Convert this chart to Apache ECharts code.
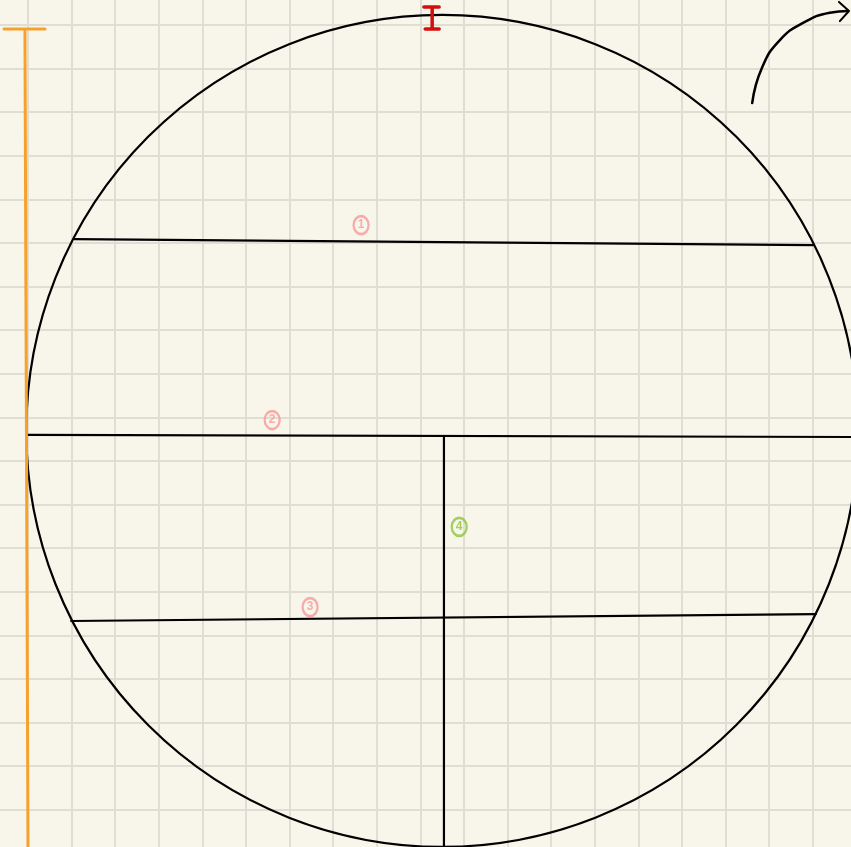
<!DOCTYPE html>
<html>
<head>
<meta charset="utf-8">
<script src="https://cdn.jsdelivr.net/npm/echarts@6/dist/echarts.min.js"></script>
<style>
  html, body { margin: 0; padding: 0; background: #f8f6eb; }
  #sketch { width: 851px; height: 847px; }
</style>
</head>
<body>
<div id="sketch"></div>
<script>
// everything is in grid-paper cells (one cell = one axis unit)
const circleCenter = [9.5, 9.31];
const circleRadius = 9.54;

const blackStrokes = [
  [[1.06, 4.91], [18.0, 5.05]],
  [[0, 9.4], [18.88, 9.45]],
  [[0.99, 13.67], [18.07, 13.51]],
  [[9.54, 9.45], [9.54, 18.85]]
];
const arrowCurve = [[16.61, 1.79], [16.83, 0.99], [17.25, 0.34], [17.82, -0.07], [18.39, -0.28], [18.81, -0.32]];
const arrowHead = [[18.6, -0.53], [18.83, -0.32], [18.62, -0.09]];
const redMark = [[9.08, -0.41], [9.43, -0.41], '-', [9.27, -0.41], [9.27, 0.09], '-', [9.11, 0.09], [9.43, 0.09]];
const orangeMark = [[-0.55, 0.09], [0.39, 0.09], '-', [-0.07, 0.11], [0, 18.85]];

const noteLabels = ['1', '2', '3', '4'];
const notePoints = [[7.64, 4.59], [5.6, 9.06], [6.47, 13.35], [9.89, 11.51]];
const noteColors = ['#f59a9a', '#f59a9a', '#f59a9a', '#8cc63f'];

const chart = echarts.init(document.getElementById('sketch'));

function stroke(data, color, width, smooth) {
  return {
    type: 'line',
    data: data,
    smooth: smooth || false,
    symbol: 'none',
    connectNulls: false,
    silent: true,
    clip: false,
    lineStyle: { color: color, width: width, cap: 'round', join: 'round' }
  };
}

const series = [];

series.push({
  type: 'custom',
  silent: true,
  clip: false,
  data: [circleCenter],
  renderItem: function (params, api) {
    const c = api.coord([api.value(0), api.value(1)]);
    const r = api.size([circleRadius, 0])[0];
    return {
      type: 'circle',
      shape: { cx: c[0], cy: c[1], r: r },
      style: { fill: 'none', stroke: '#000', lineWidth: 2.2 }
    };
  }
});

blackStrokes.forEach(function (s) { series.push(stroke(s, '#000', 2.2)); });
series.push(stroke(arrowCurve, '#000', 2.5, 0.5));
series.push(stroke(arrowHead, '#000', 2));
series.push(stroke(redMark, '#d40d0d', 3.5));
series.push(stroke(orangeMark, '#f7a12d', 3));

series.push({
  type: 'scatter',
  silent: true,
  data: notePoints.map(function (p, i) {
    return {
      value: p,
      itemStyle: { color: 'rgba(0,0,0,0)', borderColor: noteColors[i], borderWidth: 2.5 },
      label: { show: true, formatter: noteLabels[i], color: noteColors[i], fontSize: 12, fontWeight: 'bold' }
    };
  }),
  symbol: 'circle',
  symbolSize: [15, 18]
});

const hiddenAxis = {
  type: 'value',
  min: -1,
  max: 19,
  interval: 1,
  axisLine: { show: false },
  axisTick: { show: false },
  axisLabel: { show: false },
  splitLine: { show: true, lineStyle: { color: '#e0ded2', width: 2 } }
};

chart.setOption({
  backgroundColor: '#f8f6eb',
  animation: false,
  grid: { left: -15.6, top: -18.6, width: 872, height: 872, containLabel: false, outerBoundsMode: 'none' },
  xAxis: Object.assign({}, hiddenAxis),
  yAxis: Object.assign({}, hiddenAxis, { inverse: true }),
  series: series
});
</script>
</body>
</html>
